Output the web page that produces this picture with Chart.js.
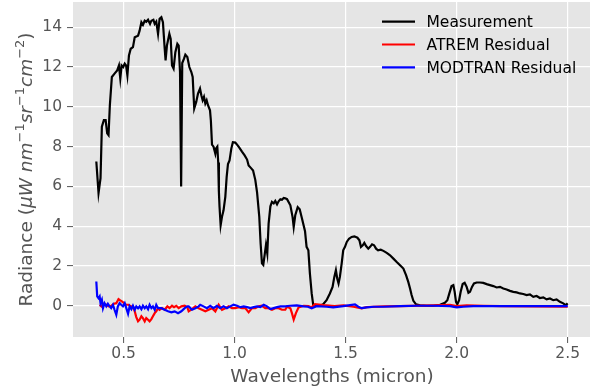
<!DOCTYPE html>
<html>
<head>
<meta charset="utf-8">
<script src="https://cdn.jsdelivr.net/npm/chart.js@4.4.1/dist/chart.umd.min.js"></script>
<style>
  html, body { margin: 0; padding: 0; background: #ffffff; overflow: hidden; width: 590px; height: 389px; }
  #wrap { width: 591px; height: 389px; }
</style>
</head>
<body>
<div id="wrap"><canvas id="c" width="591" height="389"></canvas></div>
<script>
// ---- Data ----
const measureX = [0.377,0.387,0.396,0.402,0.411,0.419,0.426,0.432,0.438,0.447,0.459,0.471,0.479,0.485,0.491,0.498,0.505,0.511,0.517,0.524,0.532,0.542,0.550,0.565,0.572,0.580,0.587,0.595,0.602,0.610,0.619,0.625,0.634,0.640,0.647,0.655,0.662,0.670,0.677,0.685,0.689,0.695,0.706,0.712,0.718,0.725,0.733,0.742,0.748,0.754,0.759,0.764,0.772,0.778,0.787,0.796,0.805,0.811,0.818,0.827,0.835,0.844,0.850,0.856,0.862,0.868,0.874,0.880,0.889,0.893,0.898,0.905,0.913,0.917,0.922,0.926,0.929,0.932,0.937,0.943,0.950,0.958,0.964,0.970,0.977,0.985,0.992,1.003,1.011,1.021,1.033,1.045,1.056,1.063,1.074,1.083,1.093,1.101,1.111,1.117,1.123,1.129,1.135,1.141,1.147,1.153,1.161,1.168,1.176,1.183,1.191,1.198,1.206,1.213,1.221,1.228,1.236,1.251,1.261,1.266,1.273,1.284,1.293,1.303,1.317,1.324,1.332,1.339,1.347,1.354,1.369,1.384,1.399,1.414,1.429,1.441,1.449,1.456,1.462,1.468,1.474,1.482,1.489,1.497,1.505,1.515,1.527,1.539,1.553,1.562,1.569,1.577,1.584,1.592,1.602,1.610,1.619,1.628,1.637,1.646,1.658,1.670,1.685,1.700,1.715,1.730,1.745,1.760,1.772,1.782,1.790,1.797,1.805,1.817,1.835,1.865,1.895,1.925,1.947,1.958,1.967,1.977,1.985,1.991,1.997,2.003,2.011,2.018,2.027,2.036,2.045,2.053,2.060,2.069,2.078,2.090,2.105,2.120,2.135,2.150,2.165,2.180,2.195,2.210,2.225,2.240,2.255,2.270,2.285,2.300,2.315,2.330,2.345,2.360,2.375,2.390,2.405,2.420,2.435,2.450,2.465,2.480,2.491,2.500];
const measureY = [7.25,5.67,6.42,9.0,9.33,9.33,8.67,8.58,10.08,11.5,11.67,11.83,12.08,11.42,12.08,12.0,12.17,12.08,11.58,12.58,12.92,13.0,13.5,13.58,13.83,14.25,14.12,14.33,14.28,14.38,14.17,14.33,14.38,14.17,14.28,13.67,14.42,14.5,14.25,12.92,12.33,13.08,13.67,13.42,12.08,11.92,12.75,13.17,13.08,11.75,6.0,12.2,12.42,12.62,12.5,12.0,11.75,11.5,9.92,10.25,10.67,10.92,10.58,10.33,10.5,10.17,10.33,10.08,9.83,9.3,8.1,8.0,7.65,7.92,8.0,7.2,5.75,4.97,4.05,4.47,4.8,5.47,6.47,7.13,7.3,7.9,8.22,8.2,8.1,7.95,7.75,7.56,7.35,7.05,6.92,6.8,6.33,5.7,4.47,3.13,2.13,2.05,2.55,3.05,2.63,4.13,5.0,5.22,5.15,5.27,5.1,5.25,5.35,5.33,5.42,5.4,5.36,5.05,4.46,3.96,4.55,4.96,4.85,4.4,3.75,2.96,2.79,1.62,0.62,0.03,0.0,0.0,0.08,0.28,0.62,0.95,1.45,1.79,1.37,1.12,1.45,2.12,2.79,2.96,3.21,3.37,3.46,3.49,3.42,3.29,2.96,3.04,3.16,3.0,2.87,2.96,3.09,3.04,2.87,2.79,2.82,2.76,2.66,2.54,2.37,2.2,2.04,1.87,1.54,1.2,0.87,0.54,0.25,0.07,0.02,0.0,0.0,0.05,0.15,0.28,0.62,0.99,1.04,0.7,0.2,0.08,0.28,0.7,1.09,1.15,0.95,0.65,0.7,0.95,1.12,1.17,1.17,1.15,1.09,1.04,0.99,0.92,0.95,0.87,0.82,0.75,0.7,0.67,0.62,0.59,0.54,0.57,0.45,0.49,0.39,0.42,0.32,0.37,0.28,0.32,0.2,0.12,0.03,0.12];

const atremX = [0.392,0.400,0.411,0.422,0.432,0.444,0.456,0.467,0.477,0.485,0.492,0.502,0.512,0.523,0.532,0.542,0.550,0.557,0.565,0.572,0.580,0.587,0.595,0.602,0.610,0.617,0.625,0.632,0.640,0.647,0.655,0.662,0.673,0.685,0.697,0.707,0.718,0.727,0.737,0.748,0.760,0.775,0.787,0.793,0.808,0.823,0.838,0.853,0.868,0.883,0.898,0.913,0.928,0.943,0.958,0.973,0.988,1.003,1.018,1.033,1.048,1.063,1.078,1.093,1.108,1.123,1.138,1.153,1.168,1.183,1.198,1.213,1.228,1.236,1.251,1.258,1.266,1.276,1.288,1.311,1.333,1.345,1.362,1.400,1.450,1.490,1.535,1.572,1.595,1.670,1.745,1.895,1.970,2.000,2.045,2.120,2.200,2.350,2.500];
const atremY = [0.05,-0.03,0.1,0.05,-0.03,0.0,0.1,0.13,0.33,0.27,0.22,0.13,0.05,0.05,-0.03,-0.03,-0.28,-0.57,-0.78,-0.7,-0.53,-0.62,-0.78,-0.62,-0.7,-0.78,-0.67,-0.53,-0.37,-0.28,-0.12,-0.2,-0.12,-0.2,-0.03,-0.12,0.0,-0.07,0.0,-0.12,-0.03,0.0,-0.07,-0.28,-0.17,-0.03,-0.12,-0.2,-0.28,-0.2,-0.12,-0.28,0.05,-0.2,-0.12,-0.03,-0.12,-0.12,-0.07,-0.12,-0.12,-0.33,-0.12,-0.12,-0.03,0.0,-0.12,-0.12,-0.2,-0.12,-0.12,-0.2,-0.2,-0.05,-0.13,-0.37,-0.69,-0.37,-0.08,0.0,-0.02,-0.08,0.08,0.03,-0.02,0.02,-0.05,-0.13,-0.07,-0.03,-0.02,0.02,0.05,-0.02,0.02,0.0,-0.02,-0.03,-0.05];

const modtranX = [0.377,0.381,0.387,0.392,0.396,0.402,0.407,0.414,0.422,0.429,0.437,0.444,0.452,0.459,0.467,0.474,0.482,0.489,0.497,0.505,0.512,0.520,0.527,0.535,0.542,0.550,0.557,0.565,0.572,0.580,0.587,0.595,0.602,0.610,0.617,0.625,0.632,0.640,0.647,0.655,0.670,0.685,0.700,0.715,0.730,0.745,0.760,0.775,0.787,0.793,0.808,0.823,0.838,0.845,0.860,0.875,0.890,0.905,0.920,0.935,0.950,0.965,0.980,0.995,1.011,1.026,1.041,1.056,1.071,1.086,1.101,1.116,1.131,1.146,1.161,1.176,1.191,1.206,1.228,1.250,1.280,1.310,1.330,1.347,1.369,1.414,1.444,1.489,1.520,1.542,1.557,1.572,1.595,1.625,1.670,1.745,1.820,1.895,1.970,2.000,2.030,2.075,2.200,2.350,2.500];
const modtranY = [1.22,0.47,0.38,0.47,0.13,0.3,-0.12,0.13,-0.03,0.1,-0.03,-0.12,0.05,-0.2,-0.45,-0.03,0.13,0.05,-0.03,0.13,-0.12,-0.4,-0.03,-0.17,0.0,-0.2,-0.03,-0.13,-0.03,-0.17,0.0,-0.12,-0.03,-0.17,0.05,-0.12,-0.03,-0.2,0.05,-0.12,-0.12,-0.2,-0.28,-0.33,-0.28,-0.37,-0.28,-0.12,-0.03,-0.03,-0.2,-0.12,-0.03,0.05,-0.03,-0.12,0.0,-0.12,0.0,-0.12,-0.03,-0.12,-0.03,0.05,0.0,-0.07,-0.03,-0.07,-0.12,-0.07,-0.03,-0.07,0.05,-0.03,-0.17,-0.12,-0.07,-0.03,-0.03,0.0,0.02,-0.03,-0.05,-0.13,-0.02,-0.05,-0.08,-0.02,0.03,0.07,-0.05,-0.12,-0.08,-0.05,-0.05,-0.02,0.0,0.0,-0.02,-0.08,-0.05,-0.02,-0.02,-0.02,-0.02];

const xTickValues = [0.5, 1.0, 1.5, 2.0, 2.5];
const yTickValues = [0, 2, 4, 6, 8, 10, 12, 14];
const seriesNames = ['Measurement', 'ATREM Residual', 'MODTRAN Residual'];
const seriesColors = ['#000000', '#ff0000', '#0000ff'];
const xTitle = 'Wavelengths (micron)';

const toPts = (xs, ys) => xs.map((x, i) => ({x: x, y: ys[i]}));

const TICK_FONT = 15.5;
const LABEL_FONT = 18.5;
const FONT_FAMILY = '"DejaVu Sans", sans-serif';

const bgPlugin = {
  id: 'bg',
  beforeDraw(chart) {
    const {ctx, chartArea: a} = chart;
    ctx.save();
    ctx.fillStyle = '#e5e5e5';
    ctx.fillRect(a.left, a.top, a.right - a.left, a.bottom - a.top);
    ctx.restore();
  }
};

const legendPlugin = {
  id: 'mylegend',
  afterDraw(chart) {
    const ctx = chart.ctx;
    ctx.save();
    const x0 = 382, x1 = 415, tx = 426.5;
    const ys = [21.7, 44.5, 67.3];
    ctx.font = TICK_FONT + 'px ' + FONT_FAMILY;
    ctx.textBaseline = 'alphabetic';
    ctx.textAlign = 'left';
    for (let i = 0; i < seriesNames.length; i++) {
      ctx.strokeStyle = seriesColors[i];
      ctx.lineWidth = 2.2;
      ctx.beginPath();
      ctx.moveTo(x0, ys[i]);
      ctx.lineTo(x1, ys[i]);
      ctx.stroke();
      ctx.fillStyle = '#000000';
      ctx.fillText(seriesNames[i], tx, ys[i] + 5.3);
    }
    ctx.restore();
  }
};

const yTitlePlugin = {
  id: 'ytitle',
  afterDraw(chart) {
    const ctx = chart.ctx;
    const a = chart.chartArea;
    const base = LABEL_FONT, sup = LABEL_FONT * 0.7;
    const segs = [
      {t: 'Radiance (', f: base + 'px ' + FONT_FAMILY, dy: 0},
      {t: 'μW nm', f: 'italic ' + base + 'px ' + FONT_FAMILY, dy: 0},
      {t: '−1', f: sup + 'px ' + FONT_FAMILY, dy: -7.5},
      {t: 'sr', f: 'italic ' + base + 'px ' + FONT_FAMILY, dy: 0},
      {t: '−1', f: sup + 'px ' + FONT_FAMILY, dy: -7.5},
      {t: 'cm', f: 'italic ' + base + 'px ' + FONT_FAMILY, dy: 0},
      {t: '−2', f: sup + 'px ' + FONT_FAMILY, dy: -7.5},
      {t: ')', f: base + 'px ' + FONT_FAMILY, dy: 0}
    ];
    ctx.save();
    let total = 0;
    segs.forEach(s => { ctx.font = s.f; s.w = ctx.measureText(s.t).width; total += s.w; });
    const cy = (a.top + a.bottom) / 2;
    ctx.translate(31.5, cy);
    ctx.rotate(-Math.PI / 2);
    ctx.fillStyle = '#555555';
    ctx.textBaseline = 'alphabetic';
    ctx.textAlign = 'left';
    let x = -total / 2;
    segs.forEach(s => { ctx.font = s.f; ctx.fillText(s.t, x, s.dy); x += s.w; });
    ctx.restore();
  }
};

new Chart(document.getElementById('c'), {
  type: 'line',
  data: {
    datasets: [
      {label: seriesNames[0], data: toPts(measureX, measureY), borderColor: seriesColors[0], borderWidth: 2.2, pointRadius: 0, tension: 0, order: 3},
      {label: seriesNames[1], data: toPts(atremX, atremY), borderColor: seriesColors[1], borderWidth: 2.2, pointRadius: 0, tension: 0, order: 2},
      {label: seriesNames[2], data: toPts(modtranX, modtranY), borderColor: seriesColors[2], borderWidth: 2.2, pointRadius: 0, tension: 0, order: 1}
    ]
  },
  options: {
    responsive: false,
    devicePixelRatio: 1,
    animation: false,
    layout: {padding: {top: 2, left: 0, right: 0, bottom: 0}},
    plugins: {legend: {display: false}, tooltip: {enabled: false}},
    scales: {
      x: {
        type: 'linear',
        min: 0.272, max: 2.605,
        afterBuildTicks: s => { s.ticks = xTickValues.map(v => ({value: v})); },
        afterFit: s => { s.height = 52; s.paddingLeft = 0; s.paddingRight = 0; s.paddingTop = 0; s.paddingBottom = 0; },
        ticks: {
          callback: v => Number(v).toFixed(1),
          color: '#555555', padding: 2, maxRotation: 0, autoSkip: false,
          font: {family: FONT_FAMILY, size: TICK_FONT}
        },
        grid: {color: '#ffffff', lineWidth: 1.2, tickColor: '#555555', tickLength: 6, tickWidth: 1},
        border: {display: false},
        title: {display: true, text: xTitle, color: '#555555', padding: {top: 0, bottom: 1}, font: {family: FONT_FAMILY, size: LABEL_FONT}}
      },
      y: {
        type: 'linear',
        min: -1.57, max: 15.27,
        afterBuildTicks: s => { s.ticks = yTickValues.map(v => ({value: v})); },
        afterFit: s => { s.width = 73; s.paddingTop = 0; s.paddingBottom = 0; s.paddingLeft = 0; s.paddingRight = 0; },
        ticks: {
          callback: v => String(v),
          color: '#555555', padding: 5, autoSkip: false,
          font: {family: FONT_FAMILY, size: TICK_FONT}
        },
        grid: {color: '#ffffff', lineWidth: 1.2, tickColor: '#555555', tickLength: 6, tickWidth: 1},
        border: {display: false}
      }
    }
  },
  plugins: [bgPlugin, legendPlugin, yTitlePlugin]
});
</script>
</body>
</html>
